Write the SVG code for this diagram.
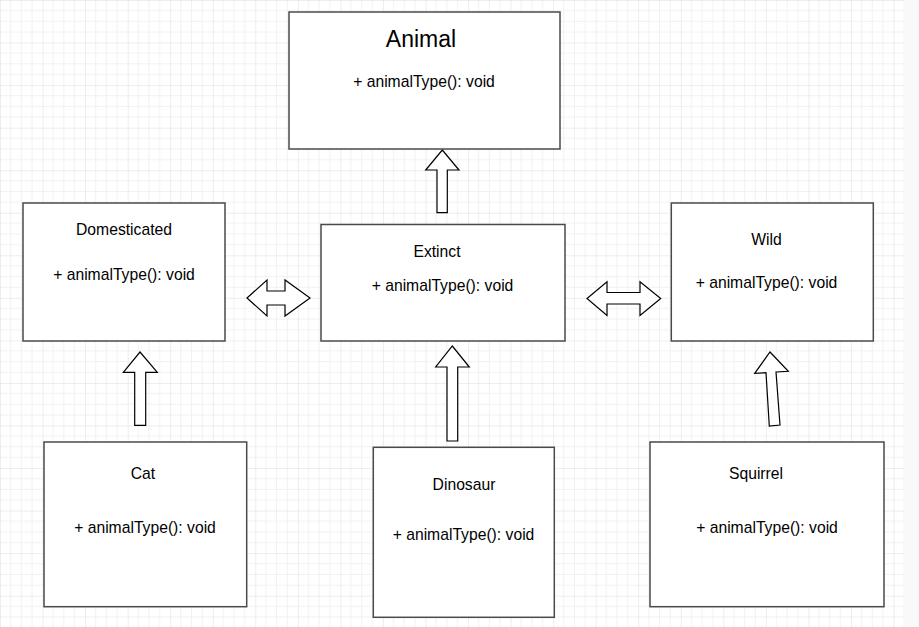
<svg xmlns="http://www.w3.org/2000/svg" width="919" height="627" viewBox="0 0 919 627">
<style>
.box{fill:#ffffff;stroke:#4a4a4a;stroke-width:1.5}
.arr{fill:#ffffff;stroke:#000000;stroke-width:1.2;stroke-linejoin:miter}
text{font-family:"Liberation Sans",Arial,sans-serif;font-size:15.7px;fill:#000000;text-anchor:middle}
.big{font-size:23px}
</style>
<defs>
<pattern id="grid" x="0" y="0" width="42.55" height="42.55" patternUnits="userSpaceOnUse">
<path d="M10.64 0V42.55M21.28 0V42.55M31.91 0V42.55M0 10.64H42.55M0 21.28H42.55M0 31.91H42.55" stroke="#f1f1f1" stroke-width="1" fill="none"/>
<path d="M0 0V42.55M0 0H42.55" stroke="#dcdcdc" stroke-width="1" fill="none"/>
</pattern>
</defs>
<rect x="0" y="0" width="919" height="627" fill="#f8f9fa"/>
<rect x="0" y="0" width="904" height="627" fill="#ffffff"/>
<rect x="0" y="0" width="904" height="627" fill="url(#grid)"/>

<g id="connectors">
<polygon class="arr" points="442.3,150 459,170 447.3,170 447.3,212.7 437,212.7 437,170 425.7,170"/>
<polygon class="arr" points="247,298 267,280 267,291 285,291 285,280 310,298 285,316 285,305 267,305 267,316"/>
<polygon class="arr" points="587,298.5 607,281.7 607,292.5 640,292.5 640,281.7 660.7,298.5 640,315.5 640,304 607,304 607,315.5"/>
<polygon class="arr" points="140,352 157.3,372.3 145.7,372.3 145.7,425.3 134.7,425.3 134.7,372.3 123.3,372.3"/>
<polygon class="arr" points="452.3,346 469.3,367 457.7,367 457.7,441 447,441 447,367 435.7,367"/>
<polygon class="arr" points="770,352 788.3,371.3 776,372 780,425 769.3,426 766,372.7 754.7,373.3"/>
</g>

<g id="animal">
<rect class="box" x="289" y="12" width="271" height="137"/>
<text class="big" x="421" y="47">Animal</text>
<text x="424" y="87">+ animalType(): void</text>
</g>
<g id="domesticated">
<rect class="box" x="23" y="203" width="202" height="138"/>
<text x="124" y="235">Domesticated</text>
<text x="124" y="280">+ animalType(): void</text>
</g>
<g id="extinct">
<rect class="box" x="321" y="224.5" width="244" height="116.5"/>
<text x="437" y="257">Extinct</text>
<text x="442.5" y="291">+ animalType(): void</text>
</g>
<g id="wild">
<rect class="box" x="671.3" y="203" width="202" height="138"/>
<text x="766.5" y="245">Wild</text>
<text x="766.5" y="288">+ animalType(): void</text>
</g>
<g id="cat">
<rect class="box" x="44" y="442" width="202.7" height="164.7"/>
<text x="143" y="479">Cat</text>
<text x="145" y="533">+ animalType(): void</text>
</g>
<g id="dinosaur">
<rect class="box" x="373.3" y="447.3" width="181" height="170"/>
<text x="464" y="490">Dinosaur</text>
<text x="463.5" y="540">+ animalType(): void</text>
</g>
<g id="squirrel">
<rect class="box" x="650" y="442" width="234" height="164.7"/>
<text x="756" y="479">Squirrel</text>
<text x="767" y="533">+ animalType(): void</text>
</g>
</svg>
